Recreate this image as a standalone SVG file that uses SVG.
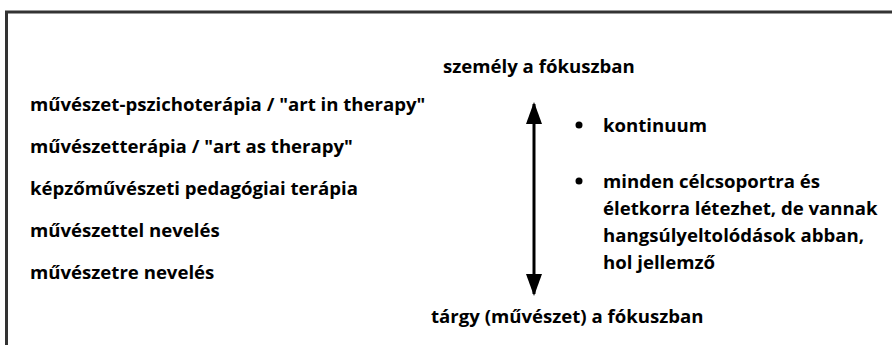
<svg xmlns="http://www.w3.org/2000/svg" width="892" height="345" viewBox="0 0 892 345">
<defs>
<style>
.t{font-family:"Open Sans","Noto Sans","Liberation Sans",sans-serif;font-weight:bold;font-size:18.6px;fill:#000}
</style>
<marker id="ah" viewBox="0 0 22 16" refX="20" refY="8" markerWidth="22" markerHeight="16" markerUnits="userSpaceOnUse" orient="auto-start-reverse" overflow="visible">
<path d="M0,0 L22,8 L0,16 Z" fill="#000"/>
</marker>
</defs>
<rect x="0" y="0" width="892" height="345" fill="#fff"/>
<rect id="frame" x="6.5" y="12" width="900" height="360" fill="none" stroke="#333" stroke-width="3"/>
<g id="left-list">
<text class="t" x="30" y="111">művészet-pszichoterápia / "art in therapy"</text>
<text class="t" x="30" y="153">művészetterápia / "art as therapy"</text>
<text class="t" x="30" y="195">képzőművészeti pedagógiai terápia</text>
<text class="t" x="30" y="237">művészettel nevelés</text>
<text class="t" x="30" y="279">művészetre nevelés</text>
</g>
<g id="top-label"><text class="t" x="443" y="73">személy a fókuszban</text></g>
<g id="bottom-label"><text class="t" x="431" y="323">tárgy (művészet) a fókuszban</text></g>
<g id="connectors">
<line x1="534" y1="104" x2="534" y2="294" stroke="#000" stroke-width="3" marker-start="url(#ah)" marker-end="url(#ah)"/>
</g>
<g id="notes">
<circle cx="579" cy="125" r="3.5" fill="#000"/>
<text class="t" x="603" y="132">kontinuum</text>
<circle cx="579" cy="181" r="3.5" fill="#000"/>
<text class="t" x="603" y="188">minden célcsoportra és</text>
<text class="t" x="603" y="215">életkorra létezhet, de vannak</text>
<text class="t" x="603" y="242">hangsúlyeltolódások abban,</text>
<text class="t" x="603" y="269">hol jellemző</text>
</g>
</svg>
